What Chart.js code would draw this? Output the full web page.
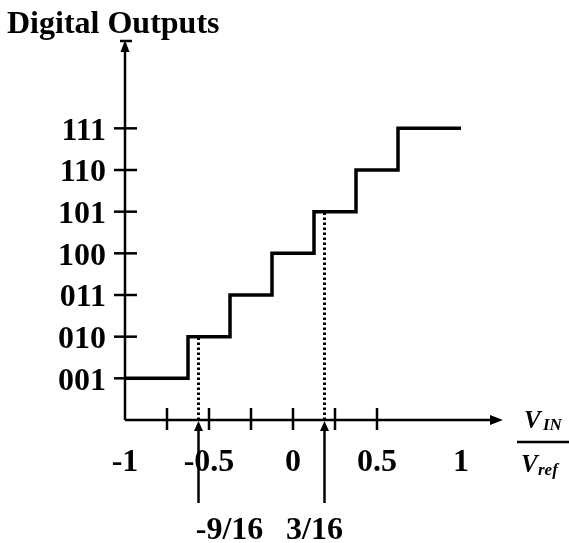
<!DOCTYPE html>
<html>
<head>
<meta charset="utf-8">
<title>Digital Outputs</title>
<script src="https://cdn.jsdelivr.net/npm/chart.js@4/dist/chart.umd.min.js"></script>
<style>
    html, body { margin: 0; padding: 0; background: #fff; }
    #wrap { width: 569px; height: 543px; }
</style>
</head>
<body>
<div id="wrap"><canvas id="chartAdc" width="569" height="543"></canvas></div>
<script>
// ===== Datos de la caracteristica del ADC =====
const codeLabels = ['001', '010', '011', '100', '101', '110', '111'];
const codeValues = [1, 2, 3, 4, 5, 6, 7];
const stepX = [-1, -0.625, -0.375, -0.125, 0.125, 0.375, 0.625, 1];
const stepCode = [1, 2, 3, 4, 5, 6, 7, 7];
const xLabelVals = [-1, -0.5, 0, 0.5, 1];
const xLabelText = ['-1', '-0.5', '0', '0.5', '1'];
const xTickMarks = [-0.75, -0.5, -0.25, 0, 0.25, 0.5];
const markX = [-9 / 16, 3 / 16];
const markCode = [2, 5];
const markText = ['-9/16', '3/16'];

const SERIF = '"Liberation Serif", "Times New Roman", serif';

function seg(ctx, x1, y1, x2, y2) {
    ctx.beginPath();
    ctx.moveTo(x1, y1);
    ctx.lineTo(x2, y2);
    ctx.stroke();
}

function tri(ctx, p1, p2, p3) {
    ctx.beginPath();
    ctx.moveTo(p1[0], p1[1]);
    ctx.lineTo(p2[0], p2[1]);
    ctx.lineTo(p3[0], p3[1]);
    ctx.closePath();
    ctx.fill();
}

// ejes, flechas y rotulos que Chart.js no dibuja solo
const axesPlugin = {
    id: 'axesAdc',
    afterDraw(chart) {
        const { ctx, chartArea, scales: { x, y } } = chart;
        const x0 = x.getPixelForValue(x.min);
        const y0 = y.getPixelForValue(0);
        const top = chartArea.top;
        const right = chartArea.right;

        ctx.save();
        ctx.strokeStyle = '#000';
        ctx.fillStyle = '#000';
        ctx.lineWidth = 2.5;

        // eje Y con flecha
        seg(ctx, x0, y0, x0, top + 8);
        tri(ctx, [x0, top], [x0 - 4.5, top + 12], [x0 + 4.5, top + 12]);
        seg(ctx, x0 - 5, top + 1, x0 + 7, top + 1);
        codeValues.forEach(v => {
            const py = y.getPixelForValue(v);
            seg(ctx, x0 - 11, py, x0 + 12, py);
        });

        // eje X con flecha
        seg(ctx, x0, y0, right - 8, y0);
        tri(ctx, [right, y0], [right - 13, y0 - 5], [right - 13, y0 + 5]);
        xTickMarks.forEach(v => {
            const px = x.getPixelForValue(v);
            seg(ctx, px, y0 - 12, px, y0 + 10);
        });

        // flechas de -9/16 y 3/16
        const labelShift = [31, -10];
        ctx.font = 'bold 32px ' + SERIF;
        ctx.textAlign = 'center';
        ctx.textBaseline = 'alphabetic';
        markX.forEach((m, i) => {
            const px = x.getPixelForValue(m);
            seg(ctx, px, y0 + 83, px, y0 + 8);
            tri(ctx, [px, y0 + 1], [px - 4.5, y0 + 11], [px + 4.5, y0 + 11]);
            ctx.fillText(markText[i], px + labelShift[i], y0 + 119);
        });

        // titulo
        ctx.textAlign = 'left';
        ctx.fillText('Digital Outputs', 7, 33);

        // V_IN / V_ref
        ctx.font = 'italic bold 25px ' + SERIF;
        ctx.fillText('V', right + 21, y0 + 8);
        ctx.fillText('V', right + 18, y0 + 52);
        ctx.font = 'italic bold 17px ' + SERIF;
        ctx.fillText('IN', right + 40, y0 + 10);
        ctx.fillText('ref', right + 35, y0 + 55);
        ctx.lineWidth = 2.5;
        seg(ctx, right + 14, y0 + 22, right + 66, y0 + 22);

        ctx.restore();
    }
};

const stairData = stepX.map((v, i) => ({ x: v, y: stepCode[i] }));

const dottedSets = markX.map((m, i) => ({
    label: markText[i],
    data: [{ x: m, y: 0 }, { x: m, y: markCode[i] }],
    borderColor: '#000',
    borderWidth: 3,
    borderDash: [2.5, 2.5],
    pointRadius: 0,
    fill: false
}));

new Chart(document.getElementById('chartAdc').getContext('2d'), {
    type: 'line',
    data: {
        datasets: [{
            label: 'Salida',
            data: stairData,
            stepped: true,
            borderColor: '#000',
            borderWidth: 3.5,
            pointRadius: 0,
            fill: false
        }, ...dottedSets]
    },
    options: {
        responsive: false,
        animation: false,
        devicePixelRatio: 1,
        layout: { padding: { top: 40, right: 66, left: 0, bottom: 0 } },
        plugins: {
            legend: { display: false },
            tooltip: { enabled: false }
        },
        scales: {
            x: {
                type: 'linear',
                min: -1,
                max: 1.25,
                border: { display: false },
                grid: { display: false, drawTicks: false },
                afterBuildTicks: s => { s.ticks = xLabelVals.map(v => ({ value: v })); },
                afterFit: s => { s.height = 123; },
                ticks: {
                    autoSkip: false,
                    maxRotation: 0,
                    padding: 24,
                    color: '#000',
                    font: { family: SERIF, size: 32, weight: 'bold' },
                    callback: (v, i) => xLabelText[i]
                }
            },
            y: {
                type: 'linear',
                min: 0,
                max: 9.12,
                border: { display: false },
                grid: { display: false, drawTicks: false },
                afterBuildTicks: s => { s.ticks = codeValues.map(v => ({ value: v })); },
                afterFit: s => { s.width = 125; },
                ticks: {
                    autoSkip: false,
                    padding: 19,
                    labelOffset: 3,
                    color: '#000',
                    font: { family: SERIF, size: 32, weight: 'bold' },
                    callback: (v, i) => codeLabels[i]
                }
            }
        }
    },
    plugins: [axesPlugin]
});
</script>
</body>
</html>
